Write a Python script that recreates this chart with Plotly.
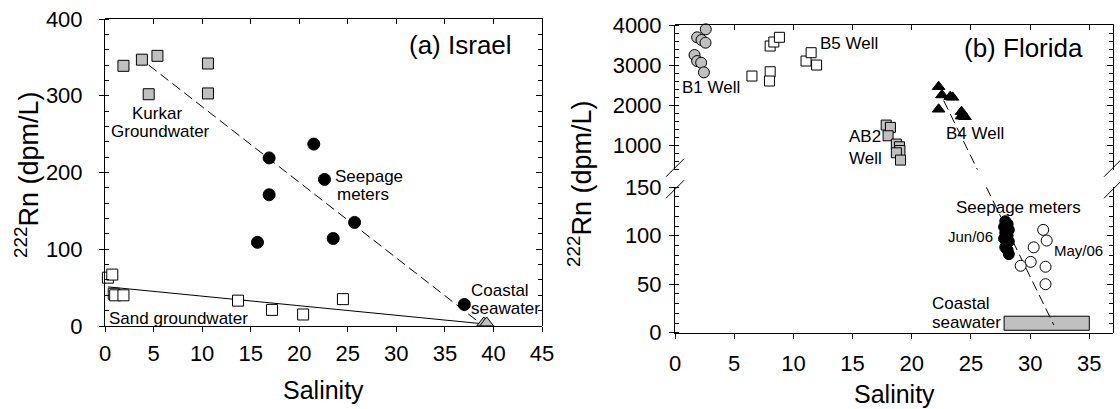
import plotly.graph_objects as go

W, H = 1120, 409
FONT = "Liberation Sans, Arial, Helvetica, sans-serif"
GRAY = "#c0c0c0"

# ---------------- (a) Israel data ----------------
kurkar_sal = [1.9, 3.8, 5.4, 4.5, 10.6, 10.6]
kurkar_rn = [339, 347, 352, 302, 342, 303]
seep_il_sal = [16.9, 16.9, 21.5, 22.6, 15.7, 23.5, 25.7, 37.0]
seep_il_rn = [219, 171, 237, 191, 109, 114, 135, 28]
sand_sal = [0.3, 0.75, 0.9, 1.05, 1.9, 13.7, 17.2, 20.4, 24.5]
sand_rn = [63, 67, 42, 40, 40, 33, 21, 15, 35]
sea_il_sal = [39.0, 39.3]
sea_il_rn = [4, 4]
kurkar_mix_sal = [4.5, 38.7]
kurkar_mix_rn = [340, 3]
sand_mix_sal = [0.3, 38.8]
sand_mix_rn = [51, 3]

# ---------------- (b) Florida data ----------------
b1_sal = [2.6, 1.87, 2.24, 2.58, 1.65, 1.87, 2.21, 2.44]
b1_rn = [3893, 3694, 3627, 3560, 3254, 3104, 3062, 2823]
b5_sal = [6.5, 8.04, 7.98, 8.04, 8.35, 8.82, 11.07, 11.5, 11.96]
b5_rn = [2731, 2838, 2607, 3478, 3577, 3694, 3104, 3311, 3005]
ab2_sal = [17.84, 18.2, 18.0, 18.7, 18.96, 19.0, 18.7, 19.05]
ab2_rn = [1512, 1455, 1246, 1040, 973, 880, 823, 642]
b4_sal = [22.27, 22.55, 23.25, 23.45, 22.27, 24.2, 24.3, 24.2, 24.5]
b4_rn = [2466, 2260, 2218, 2201, 1905, 1845, 1738, 1736, 1719]
jun_sal = [27.9, 28.1, 27.8, 28.2, 27.9, 28.1, 27.8, 28.2, 28.0, 27.9, 28.1, 28.2]
jun_rn = [115, 112, 109, 106, 103, 100, 97, 94, 91, 88, 85, 81]
may_sal = [31.1, 31.4, 30.3, 30.05, 29.2, 31.3, 31.3]
may_rn = [106, 95, 88, 73, 69, 68, 50]
sea_fl_sal = [27.8, 35.0]
sea_fl_rn = [2.5, 17]
fl_mix_up_sal = [22.7, 25.55]
fl_mix_up_rn = [2120, 400]
fl_mix_lo_sal = [26.3, 32.0]
fl_mix_lo_rn = [150, 8]

# ---------------- layout geometry (pixels -> paper) ----------------
def px_x(p):
    return p / W

def px_y(p):
    return 1 - p / H

L_X = [px_x(105), px_x(542)]
L_Y = [px_y(326), px_y(19)]
R_X = [px_x(675), px_x(1113)]
R_YL = [px_y(332.7), px_y(187.2)]
R_YU = [px_y(169.8), px_y(25)]

fig = go.Figure()

DASH = "10px,5px"

def mk(color, symbol, size, line_color="black"):
    return dict(color=color, symbol=symbol, size=size, line=dict(color=line_color, width=1))

# Israel lines
fig.add_trace(go.Scatter(x=kurkar_mix_sal, y=kurkar_mix_rn, mode="lines",
                         line=dict(color="black", width=1, dash=DASH), xaxis="x", yaxis="y"))
fig.add_trace(go.Scatter(x=sand_mix_sal, y=sand_mix_rn, mode="lines",
                         line=dict(color="black", width=1), xaxis="x", yaxis="y"))
# Israel markers (Kurkar drawn on the frame subplot, which shares domain and range)
fig.add_trace(go.Scatter(x=kurkar_sal, y=kurkar_rn, mode="markers", marker=mk(GRAY, "square", 11),
                         xaxis="x3", yaxis="y3", cliponaxis=False))
fig.add_trace(go.Scatter(x=seep_il_sal, y=seep_il_rn, mode="markers", marker=mk("black", "circle", 12),
                         xaxis="x", yaxis="y", cliponaxis=False))
fig.add_trace(go.Scatter(x=sand_sal, y=sand_rn, mode="markers", marker=mk("white", "square", 11),
                         xaxis="x", yaxis="y", cliponaxis=False))
fig.add_trace(go.Scatter(x=sea_il_sal, y=sea_il_rn, mode="markers", marker=mk(GRAY, "triangle-up", 12),
                         xaxis="x", yaxis="y", cliponaxis=False))

# Florida: seawater box
fig.add_trace(go.Scatter(x=[sea_fl_sal[0], sea_fl_sal[1], sea_fl_sal[1], sea_fl_sal[0], sea_fl_sal[0]],
                         y=[sea_fl_rn[0], sea_fl_rn[0], sea_fl_rn[1], sea_fl_rn[1], sea_fl_rn[0]],
                         mode="lines", fill="toself", fillcolor=GRAY,
                         line=dict(color="black", width=1), xaxis="x2", yaxis="y2"))
# Florida mixing line (two segments across the axis break)
fig.add_trace(go.Scatter(x=fl_mix_up_sal, y=fl_mix_up_rn, mode="lines",
                         line=dict(color="black", width=1, dash=DASH), xaxis="x2", yaxis="y4"))
fig.add_trace(go.Scatter(x=fl_mix_lo_sal, y=fl_mix_lo_rn, mode="lines",
                         line=dict(color="black", width=1, dash=DASH), xaxis="x2", yaxis="y2"))
# Florida markers
fig.add_trace(go.Scatter(x=b1_sal, y=b1_rn, mode="markers", marker=mk(GRAY, "circle", 11),
                         xaxis="x4", yaxis="y5", cliponaxis=False))
fig.add_trace(go.Scatter(x=b5_sal, y=b5_rn, mode="markers", marker=mk("white", "square", 10),
                         xaxis="x2", yaxis="y4", cliponaxis=False))
fig.add_trace(go.Scatter(x=ab2_sal, y=ab2_rn, mode="markers", marker=mk(GRAY, "square", 10),
                         xaxis="x2", yaxis="y4", cliponaxis=False))
fig.add_trace(go.Scatter(x=b4_sal, y=b4_rn, mode="markers", marker=mk("black", "triangle-up", 11),
                         xaxis="x2", yaxis="y4", cliponaxis=False))
fig.add_trace(go.Scatter(x=jun_sal, y=jun_rn, mode="markers", marker=mk("black", "circle", 11),
                         xaxis="x2", yaxis="y2", cliponaxis=False))
fig.add_trace(go.Scatter(x=may_sal, y=may_rn, mode="markers", marker=mk("white", "circle", 11),
                         xaxis="x4", yaxis="y6", cliponaxis=False))

TICKFONT = dict(family=FONT, size=22, color="black")


def base_axis(**kw):
    d = dict(showgrid=False, zeroline=False, showline=True, linecolor="black", linewidth=1,
             ticks="outside", ticklen=5, tickwidth=1, tickcolor="black", tickfont=TICKFONT,
             automargin=False)
    d.update(kw)
    return d


def frame_axis(**kw):
    d = dict(showgrid=False, zeroline=False, showline=True, linecolor="black", linewidth=1,
             ticks="inside", ticklen=5, tickwidth=1, tickcolor="black", showticklabels=False,
             automargin=False)
    d.update(kw)
    return d


def minor(dt, t0=0):
    return dict(dtick=dt, tick0=t0, ticks="inside", ticklen=4, tickwidth=1, tickcolor="black", showgrid=False)


fig.update_layout(
    template="none",
    width=W, height=H, autosize=False, margin=dict(l=0, r=0, t=0, b=0, pad=0),
    paper_bgcolor="white", plot_bgcolor="rgba(0,0,0,0)", showlegend=False,
    font=dict(family=FONT, color="black"),
    # (a) main axes
    xaxis=base_axis(domain=L_X, range=[0, 45], tick0=0, dtick=5, anchor="y", ticklabelstandoff=3),
    yaxis=base_axis(domain=L_Y, range=[0, 400], tick0=0, dtick=100, anchor="x", minor=minor(20),
                    ticklabelstandoff=12),
    # (a) frame: top + right
    xaxis3=frame_axis(domain=L_X, range=[0, 45], tick0=0, dtick=5, anchor="y3", side="top"),
    yaxis3=frame_axis(domain=L_Y, range=[0, 400], tick0=0, dtick=100, ticklen=6, anchor="x3",
                      side="right", minor=minor(20)),
    # (b) main axes
    xaxis2=base_axis(domain=R_X, range=[0, 37], tick0=0, dtick=5, anchor="y2", ticklabelstandoff=6),
    yaxis2=base_axis(domain=R_YL, range=[0, 150], tick0=0, dtick=50, anchor="x2", minor=minor(10),
                     ticklabelstandoff=3),
    yaxis4=base_axis(domain=R_YU, range=[400, 4000], tick0=0, dtick=1000, anchor="x2", minor=minor(200),
                     ticklabelstandoff=3),
    # (b) frame: top + right (upper and lower parts)
    xaxis4=frame_axis(domain=R_X, range=[0, 37], tick0=0, dtick=5, anchor="y5", side="top"),
    yaxis5=frame_axis(domain=R_YU, range=[400, 4000], tick0=0, dtick=1000, ticklen=6, anchor="x4",
                      side="right", minor=minor(200)),
    yaxis6=frame_axis(domain=R_YL, range=[0, 150], tick0=0, dtick=50, ticklen=6, anchor="x4",
                      side="right", minor=minor(10)),
)

ann = []


def label(text, x, y, xref, yref, size=17, xanchor="center", yanchor="middle", angle=0):
    ann.append(dict(text=text, x=x, y=y, xref=xref, yref=yref, showarrow=False,
                    xanchor=xanchor, yanchor=yanchor, textangle=angle,
                    font=dict(family=FONT, size=size, color="black")))


# Israel labels
label("(a) Israel", 36.6, 366, "x", "y", size=26)
label("Kurkar", 5.32, 277, "x", "y")
label("Groundwater", 5.75, 253, "x", "y")
label("Seepage", 23.5, 194.7, "x", "y", xanchor="left")
label("meters", 26.6, 170.8, "x", "y")
label("Sand groundwater", 7.6, 10, "x", "y")
label("Coastal", 40.65, 46, "x", "y")
label("seawater", 41.2, 23, "x", "y")

# Florida labels
label("(b) Florida", 29.4, 3421, "x2", "y4", size=26)
label("B1 Well", 3.04, 2451, "x2", "y4")
label("B5 Well", 14.66, 3530, "x2", "y4")
label("AB2", 16.08, 1223, "x2", "y4")
label("Well", 16.1, 686, "x2", "y4")
label("B4 Well", 25.3, 1308, "x2", "y4")
label("Seepage meters", 29.0, 128.6, "x2", "y2")
label("Jun/06", 27.03, 99, "x2", "y2", size=15, xanchor="right")
label("May/06", 31.85, 84.5, "x2", "y2", size=15, xanchor="left")
label("Coastal", 21.57, 29.6, "x2", "y2", xanchor="left")
label("seawater", 21.57, 10.7, "x2", "y2", xanchor="left")

# axis titles
label("Salinity", (L_X[0] + L_X[1]) / 2, px_y(390), "paper", "paper", size=25)
label("Salinity", (R_X[0] + R_X[1]) / 2, px_y(394), "paper", "paper", size=25)
label("<sup>222</sup>Rn (dpm/L)", px_x(27), px_y(175), "paper", "paper", size=27, angle=-90)
label("<sup>222</sup>Rn (dpm/L)", px_x(580), px_y(184), "paper", "paper", size=27, angle=-90)

fig.update_layout(annotations=ann)

# axis-break marks on the Florida panel
shapes = []
y_top_lo = R_YL[1]
y_bot_up = R_YU[0]
for xc in (R_X[0], R_X[1]):
    for yc in (y_bot_up + 0.005, y_top_lo - 0.005):
        shapes.append(dict(type="line", xref="paper", yref="paper",
                           x0=xc - px_x(9), y0=yc - 9 / H, x1=xc + px_x(9), y1=yc + 9 / H,
                           line=dict(color="black", width=1)))
fig.update_layout(shapes=shapes)

# remove the default page margin so the 1120x409 figure fills the window exactly
fig.write_html("out.html", config={"displayModeBar": False},
               post_script="document.body.style.margin='0';")
